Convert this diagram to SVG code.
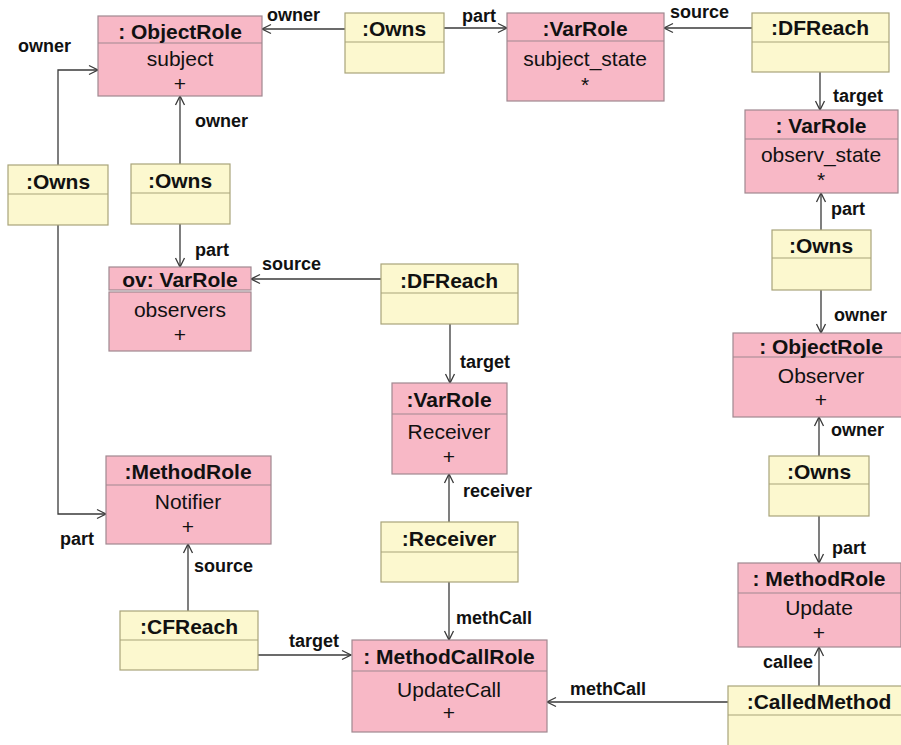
<svg xmlns="http://www.w3.org/2000/svg" width="901" height="745" viewBox="0 0 901 745">
  <style>
    .role { fill: #F8B8C6; stroke: #A08890; stroke-width: 1.2; }
    .rel  { fill: #FCF8CF; stroke: #A8A47A; stroke-width: 1.2; }
    .rdiv { stroke: #A08890; stroke-width: 1.2; }
    .ydiv { stroke: #A8A47A; stroke-width: 1.2; }
    .title { font-family: "Liberation Sans", Arial, sans-serif; font-weight: bold; font-size: 21px; fill: #111; text-anchor: middle; }
    .body  { font-family: "Liberation Sans", Arial, sans-serif; font-size: 21px; fill: #111; text-anchor: middle; }
    .lbl   { font-family: "Liberation Sans", Arial, sans-serif; font-weight: bold; font-size: 18px; fill: #111; }
    .conn  { fill: none; stroke: #3a3a3a; stroke-width: 1.3; marker-end: url(#open); }
  </style>
  <defs>
    <marker id="open" markerUnits="userSpaceOnUse" markerWidth="12" markerHeight="12" refX="10" refY="6" orient="auto">
      <path d="M1,1.5 L10,6 L1,10.5" fill="none" stroke="#3a3a3a" stroke-width="1.3"/>
    </marker>
  </defs>
  <rect width="901" height="745" fill="#FFFFFF"/>

  <!-- connectors -->
  <g id="connectors">
    <path class="conn" d="M345,29 L262,29"/>
    <path class="conn" d="M444,28 L507,28"/>
    <path class="conn" d="M752,28 L664,28"/>
    <path class="conn" d="M820,72 L820,110"/>
    <path class="conn" d="M821,230 L821,193"/>
    <path class="conn" d="M821,290 L821,333"/>
    <path class="conn" d="M819,456 L819,417"/>
    <path class="conn" d="M819,516 L819,563"/>
    <path class="conn" d="M819,686 L819,647"/>
    <path class="conn" d="M728,702 L547,702"/>
    <path class="conn" d="M58,165 L58,70 L98,70"/>
    <path class="conn" d="M58,225 L58,514 L106,514"/>
    <path class="conn" d="M180,164 L180,96"/>
    <path class="conn" d="M180,224 L180,267"/>
    <path class="conn" d="M381,279 L251,279"/>
    <path class="conn" d="M450,324 L450,383"/>
    <path class="conn" d="M449,522 L449,474"/>
    <path class="conn" d="M449,582 L449,640"/>
    <path class="conn" d="M188,611 L188,544"/>
    <path class="conn" d="M258,655 L351,655"/>

    <text class="lbl" x="267" y="21">owner</text>
    <text class="lbl" x="462" y="22">part</text>
    <text class="lbl" x="670" y="18">source</text>
    <text class="lbl" x="833" y="102">target</text>
    <text class="lbl" x="831" y="215">part</text>
    <text class="lbl" x="834" y="321">owner</text>
    <text class="lbl" x="831" y="436">owner</text>
    <text class="lbl" x="832" y="554">part</text>
    <text class="lbl" x="763" y="668">callee</text>
    <text class="lbl" x="570" y="695">methCall</text>
    <text class="lbl" x="18" y="52">owner</text>
    <text class="lbl" x="195" y="127">owner</text>
    <text class="lbl" x="195" y="256">part</text>
    <text class="lbl" x="262" y="270">source</text>
    <text class="lbl" x="460" y="368">target</text>
    <text class="lbl" x="463" y="497">receiver</text>
    <text class="lbl" x="456" y="624">methCall</text>
    <text class="lbl" x="60" y="545">part</text>
    <text class="lbl" x="194" y="572">source</text>
    <text class="lbl" x="289" y="647">target</text>
  </g>

  <!-- role nodes -->
  <g id="subject">
    <rect class="role" x="98" y="16" width="164" height="80"/>
    <line class="rdiv" x1="98" y1="43" x2="262" y2="43"/>
    <text class="title" x="180" y="39">: ObjectRole</text>
    <text class="body" x="180" y="66">subject</text>
    <text class="body" x="180" y="91">+</text>
  </g>
  <g id="subject_state">
    <rect class="role" x="507" y="13" width="157" height="88"/>
    <line class="rdiv" x1="507" y1="41" x2="664" y2="41"/>
    <text class="title" x="585" y="36">:VarRole</text>
    <text class="body" x="585" y="66">subject_state</text>
    <text class="body" x="585" y="92">*</text>
  </g>
  <g id="observ_state">
    <rect class="role" x="745" y="110" width="153" height="83"/>
    <line class="rdiv" x1="745" y1="139" x2="898" y2="139"/>
    <text class="title" x="821" y="133">: VarRole</text>
    <text class="body" x="821" y="162">observ_state</text>
    <text class="body" x="821" y="187">*</text>
  </g>
  <g id="observers">
    <rect class="role" x="109" y="267" width="142" height="23"/>
    <rect class="role" x="109" y="292" width="142" height="59"/>
    <text class="title" x="180" y="287">ov: VarRole</text>
    <text class="body" x="180" y="317">observers</text>
    <text class="body" x="180" y="342">+</text>
  </g>
  <g id="receiver_role">
    <rect class="role" x="392" y="383" width="115" height="91"/>
    <line class="rdiv" x1="392" y1="414" x2="507" y2="414"/>
    <text class="title" x="449" y="407">:VarRole</text>
    <text class="body" x="449" y="439">Receiver</text>
    <text class="body" x="449" y="464">+</text>
  </g>
  <g id="observer">
    <rect class="role" x="733" y="333" width="176" height="84"/>
    <line class="rdiv" x1="733" y1="357" x2="909" y2="357"/>
    <text class="title" x="821" y="354">: ObjectRole</text>
    <text class="body" x="821" y="383">Observer</text>
    <text class="body" x="821" y="407">+</text>
  </g>
  <g id="update">
    <rect class="role" x="738" y="563" width="163" height="84"/>
    <line class="rdiv" x1="738" y1="593" x2="901" y2="593"/>
    <text class="title" x="819" y="586">: MethodRole</text>
    <text class="body" x="819" y="615">Update</text>
    <text class="body" x="819" y="640">+</text>
  </g>
  <g id="notifier">
    <rect class="role" x="106" y="456" width="165" height="88"/>
    <line class="rdiv" x1="106" y1="485" x2="271" y2="485"/>
    <text class="title" x="188" y="479">:MethodRole</text>
    <text class="body" x="188" y="509">Notifier</text>
    <text class="body" x="188" y="534">+</text>
  </g>
  <g id="update_call">
    <rect class="role" x="352" y="640" width="195" height="92"/>
    <line class="rdiv" x1="352" y1="671" x2="547" y2="671"/>
    <text class="title" x="449" y="664">: MethodCallRole</text>
    <text class="body" x="449" y="697">UpdateCall</text>
    <text class="body" x="449" y="720">+</text>
  </g>

  <!-- relation nodes -->
  <g id="owns_top">
    <rect class="rel" x="345" y="13" width="99" height="60"/>
    <line class="ydiv" x1="345" y1="42" x2="444" y2="42"/>
    <text class="title" x="394" y="36">:Owns</text>
  </g>
  <g id="dfreach_top">
    <rect class="rel" x="752" y="13" width="137" height="59"/>
    <line class="ydiv" x1="752" y1="42" x2="889" y2="42"/>
    <text class="title" x="820" y="35">:DFReach</text>
  </g>
  <g id="owns_left">
    <rect class="rel" x="8" y="165" width="100" height="60"/>
    <line class="ydiv" x1="8" y1="194" x2="108" y2="194"/>
    <text class="title" x="58" y="189">:Owns</text>
  </g>
  <g id="owns_mid">
    <rect class="rel" x="131" y="164" width="99" height="60"/>
    <line class="ydiv" x1="131" y1="193" x2="230" y2="193"/>
    <text class="title" x="180" y="188">:Owns</text>
  </g>
  <g id="dfreach_mid">
    <rect class="rel" x="381" y="264" width="137" height="60"/>
    <line class="ydiv" x1="381" y1="293" x2="518" y2="293"/>
    <text class="title" x="449" y="288">:DFReach</text>
  </g>
  <g id="owns_right_upper">
    <rect class="rel" x="772" y="230" width="99" height="60"/>
    <line class="ydiv" x1="772" y1="258" x2="871" y2="258"/>
    <text class="title" x="821" y="253">:Owns</text>
  </g>
  <g id="owns_right_lower">
    <rect class="rel" x="769" y="456" width="100" height="60"/>
    <line class="ydiv" x1="769" y1="484" x2="869" y2="484"/>
    <text class="title" x="819" y="479">:Owns</text>
  </g>
  <g id="receiver">
    <rect class="rel" x="381" y="522" width="137" height="60"/>
    <line class="ydiv" x1="381" y1="552" x2="518" y2="552"/>
    <text class="title" x="449" y="546">:Receiver</text>
  </g>
  <g id="cfreach">
    <rect class="rel" x="120" y="611" width="138" height="59"/>
    <line class="ydiv" x1="120" y1="640" x2="258" y2="640"/>
    <text class="title" x="189" y="634">:CFReach</text>
  </g>
  <g id="called_method">
    <rect class="rel" x="728" y="686" width="182" height="70"/>
    <line class="ydiv" x1="728" y1="715" x2="910" y2="715"/>
    <text class="title" x="819" y="709">:CalledMethod</text>
  </g>
</svg>
